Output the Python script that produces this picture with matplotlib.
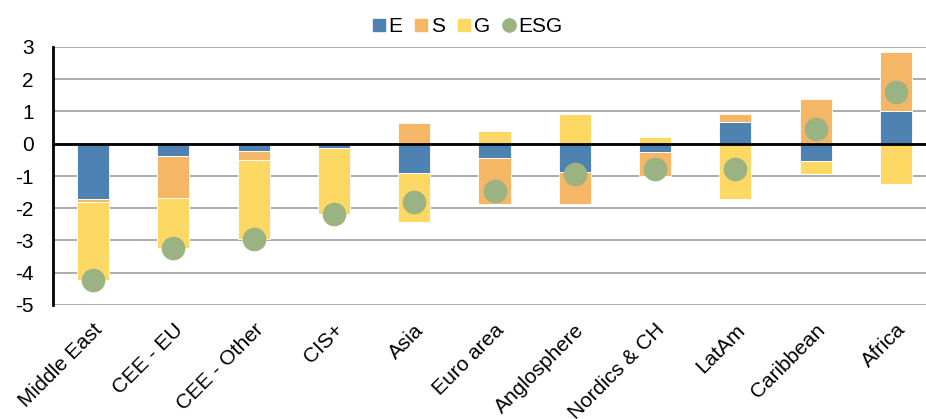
"""
Stacked E / S / G contributions by region, with the total ESG score as a dot.
"""
import numpy as np
import matplotlib
matplotlib.use("Agg")
import matplotlib.pyplot as plt
from matplotlib.lines import Line2D

plt.rcParams['font.family'] = ['Liberation Sans', 'DejaVu Sans']
plt.rcParams['axes.unicode_minus'] = False

regions = ["Middle East", "CEE - EU", "CEE - Other", "CIS+", "Asia", "Euro area",
           "Anglosphere", "Nordics & CH", "LatAm", "Caribbean", "Africa"]
e_vals = [-1.70, -0.39, -0.22, -0.13, -0.91, -0.43, -0.87, -0.26, 0.68, -0.53, 1.01]
s_vals = [-0.11, -1.28, -0.27, 0.00, 0.63, -1.43, -0.99, -0.73, 0.25, 1.39, 1.84]
g_vals = [-2.42, -1.55, -2.45, -2.06, -1.52, 0.40, 0.93, 0.20, -1.70, -0.40, -1.24]
esg_vals = [-4.23, -3.22, -2.94, -2.19, -1.80, -1.46, -0.93, -0.79, -0.77, 0.46, 1.61]

colors = {'E': '#4E82B2', 'S': '#F5B666', 'G': '#FED865', 'ESG': '#9BB282'}

fig = plt.figure(figsize=(9.26, 4.19), dpi=100)
ax = fig.add_axes([53 / 926, 114 / 419, 883 / 926, 258 / 419])

x = np.arange(len(regions))
pos_base = np.zeros(len(regions))
neg_base = np.zeros(len(regions))

# Excel-style stacking: positives and negatives pile up separately
for name, vals in (('E', e_vals), ('S', s_vals), ('G', g_vals)):
    vals = np.array(vals)
    bottoms = np.where(vals >= 0, pos_base, neg_base)
    ax.bar(x, vals, width=0.4, bottom=bottoms, color=colors[name],
           edgecolor='white', linewidth=0.6, zorder=2)
    pos_base += np.where(vals >= 0, vals, 0)
    neg_base += np.where(vals < 0, vals, 0)

ax.axhline(0, color='black', linewidth=2, zorder=3)
ax.scatter(x, esg_vals, s=290, color=colors['ESG'], zorder=4, linewidths=0)

ax.set_xlim(-0.5, len(regions) - 0.5)
ax.set_ylim(-5, 3)
ax.set_yticks(range(-5, 4))
ax.grid(axis='y', color='#A6A6A6', linewidth=1.3, zorder=0)
ax.set_axisbelow(True)

for side in ('top', 'right', 'bottom'):
    ax.spines[side].set_visible(False)
ax.spines['left'].set_linewidth(2)
ax.spines['left'].set_zorder(3)

ax.tick_params(axis='y', length=0, pad=14, labelsize=15)
ax.tick_params(axis='x', length=0, pad=11, labelsize=15)
ax.set_xticks(x)
ax.set_xticklabels(regions, rotation=45, ha='right', va='top', rotation_mode='anchor')

handles = [
    Line2D([], [], marker='s', linestyle='none', color=colors['E'], markersize=8.5),
    Line2D([], [], marker='s', linestyle='none', color=colors['S'], markersize=8.5),
    Line2D([], [], marker='s', linestyle='none', color=colors['G'], markersize=8.5),
    Line2D([], [], marker='o', linestyle='none', color=colors['ESG'], markersize=9.5),
]
fig.legend(handles, ['E', 'S', 'G', 'ESG'], loc='center', bbox_to_anchor=(467 / 926, 1 - 27 / 419),
           ncol=4, frameon=False, fontsize=15, handlelength=0.7, handletextpad=0.1,
           columnspacing=0.58)

fig.savefig('out.png', dpi=100, facecolor='white')
